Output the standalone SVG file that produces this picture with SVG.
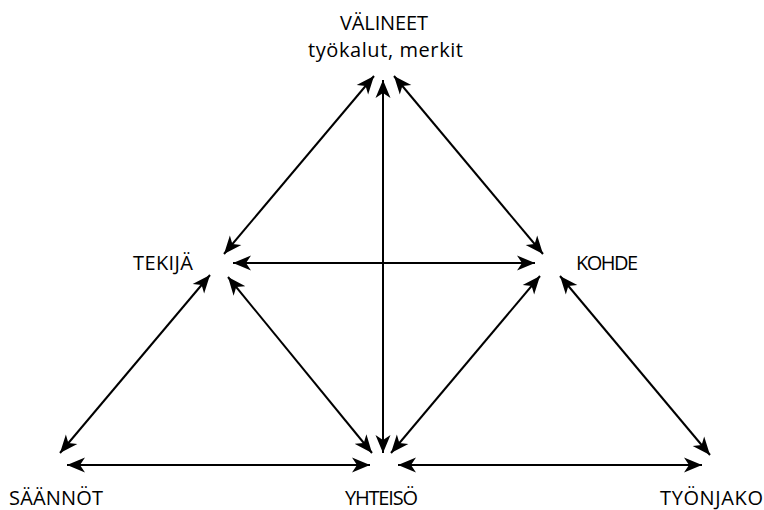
<svg xmlns="http://www.w3.org/2000/svg" width="764" height="510" viewBox="0 0 764 510">
<style>
  .lbl { font-family: "Open Sans", "Noto Sans", "Liberation Sans", sans-serif; font-size: 20px; fill: #000; text-anchor: middle; }
  .c line { stroke: #000; stroke-width: 2; fill: none; marker-start: url(#ah); marker-end: url(#ah); }
</style>
<defs>
  <marker id="ah" markerUnits="userSpaceOnUse" viewBox="0 0 20 16" markerWidth="20" markerHeight="16" refX="18" refY="8" orient="auto-start-reverse">
    <path d="M18,8 L0,0.5 L5,8 L0,15.5 z" fill="#000"/>
  </marker>
</defs>
<rect width="764" height="510" fill="#fff"/>
<g id="connectors" class="c">
  <line x1="374" y1="76" x2="224" y2="254"/>
  <line x1="394" y1="76" x2="543" y2="254"/>
  <line x1="383" y1="80" x2="383" y2="453"/>
  <line x1="233" y1="263" x2="535" y2="263"/>
  <line x1="210" y1="275" x2="60" y2="453"/>
  <line x1="228" y1="277" x2="372" y2="453"/>
  <line x1="540" y1="276" x2="391" y2="453"/>
  <line x1="560" y1="276" x2="710" y2="455"/>
  <line x1="67" y1="465" x2="370" y2="465"/>
  <line x1="398" y1="465" x2="702" y2="465"/>
</g>
<g id="valineet"><text class="lbl" x="384" y="30" textLength="88">VÄLINEET</text><text class="lbl" x="385.5" y="57" textLength="155">työkalut, merkit</text></g>
<g id="tekija"><text class="lbl" x="163" y="270" textLength="60">TEKIJÄ</text></g>
<g id="kohde"><text class="lbl" x="607" y="270" textLength="62">KOHDE</text></g>
<g id="saannot"><text class="lbl" x="56" y="505" textLength="94">SÄÄNNÖT</text></g>
<g id="yhteiso"><text class="lbl" x="381.5" y="505" textLength="73">YHTEISÖ</text></g>
<g id="tyonjako"><text class="lbl" x="711.5" y="505" textLength="103">TYÖNJAKO</text></g>
</svg>
